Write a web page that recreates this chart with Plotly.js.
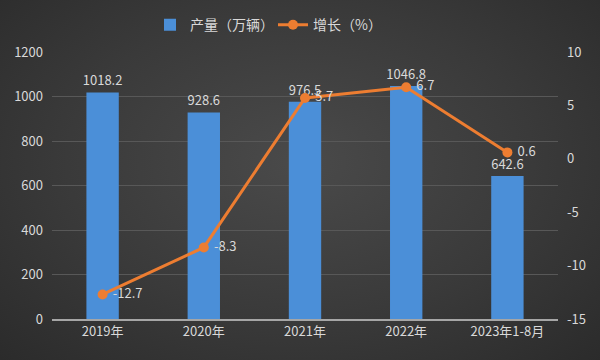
<!DOCTYPE html>
<html>
<head>
<meta charset="utf-8">
<script src="https://cdn.plot.ly/plotly-3.0.1.min.js"></script>
<style>
html,body{margin:0;padding:0;}
#chart{width:600px;height:360px;background:radial-gradient(ellipse at 50% 45%, #4a4a4a 0%, #3a3a3a 55%, #2b2b2b 100%);}
</style>
</head>
<body>
<div id="chart"></div>
<script>
const categories = ["2019年", "2020年", "2021年", "2022年", "2023年1-8月"];
const production = [1018.2, 928.6, 976.5, 1046.8, 642.6];
const growth = [-12.7, -8.3, 5.7, 6.7, 0.6];
const leftTicks = [0, 200, 400, 600, 800, 1000, 1200];
const rightTicks = [-15, -10, -5, 0, 5, 10];

const fontFam = '"Noto Sans CJK SC", "Noto Sans", sans-serif';
const txtColor = '#d9d9d9';

const traces = [
  {
    type: 'bar',
    name: '产量（万辆）',
    x: categories,
    y: production,
    width: 0.32,
    marker: {color: '#4b8fd8'},
    text: production.map(v => v.toFixed(1)),
    textposition: 'outside',
    constraintext: 'none',
    textfont: {color: txtColor, size: 13, family: fontFam},
    cliponaxis: false,
    hoverinfo: 'none'
  },
  {
    type: 'scatter',
    mode: 'lines+markers+text',
    name: '增长（%）',
    x: categories,
    y: growth,
    yaxis: 'y2',
    line: {color: '#ed7d31', width: 3},
    marker: {color: '#ed7d31', size: 10},
    text: growth.map(v => '\u00a0' + v.toString()),
    textposition: 'middle right',
    textfont: {color: txtColor, size: 13, family: fontFam},
    cliponaxis: false,
    hoverinfo: 'none'
  }
];

const layout = {
  width: 600,
  height: 360,
  margin: {l: 52, r: 42, t: 52, b: 41, autoexpand: false},
  paper_bgcolor: 'rgba(0,0,0,0)',
  plot_bgcolor: 'rgba(0,0,0,0)',
  font: {family: fontFam, color: txtColor, size: 13},
  showlegend: true,
  legend: {
    orientation: 'h',
    xref: 'container', yref: 'container',
    x: 0.25, xanchor: 'left',
    y: 0.93, yanchor: 'middle',
    entrywidth: 78,
    entrywidthmode: 'pixels',
    font: {color: txtColor, size: 14, family: fontFam},
    bgcolor: 'rgba(0,0,0,0)'
  },
  xaxis: {
    type: 'category',
    range: [-0.5, 4.5],
    showgrid: false,
    showline: true,
    linecolor: '#a6a6a6',
    linewidth: 1.5,
    ticks: '',
    tickfont: {color: txtColor, size: 13, family: fontFam},
    fixedrange: true
  },
  yaxis: {
    range: [0, 1200],
    tickvals: leftTicks,
    ticktext: leftTicks.map(String),
    showgrid: true,
    gridcolor: '#585858',
    gridwidth: 1,
    zeroline: false,
    showline: false,
    ticks: '',
    ticklabelstandoff: 8,
    tickfont: {color: txtColor, size: 13, family: fontFam}
  },
  yaxis2: {
    overlaying: 'y',
    side: 'right',
    range: [-15, 10],
    tickvals: rightTicks,
    ticktext: rightTicks.map(String),
    showgrid: false,
    zeroline: false,
    showline: false,
    ticks: '',
    ticklabelstandoff: 8,
    tickfont: {color: txtColor, size: 13, family: fontFam}
  },
  bargap: 0.68
};

Plotly.newPlot('chart', traces, layout, {displayModeBar: false, staticPlot: true});
</script>
</body>
</html>
